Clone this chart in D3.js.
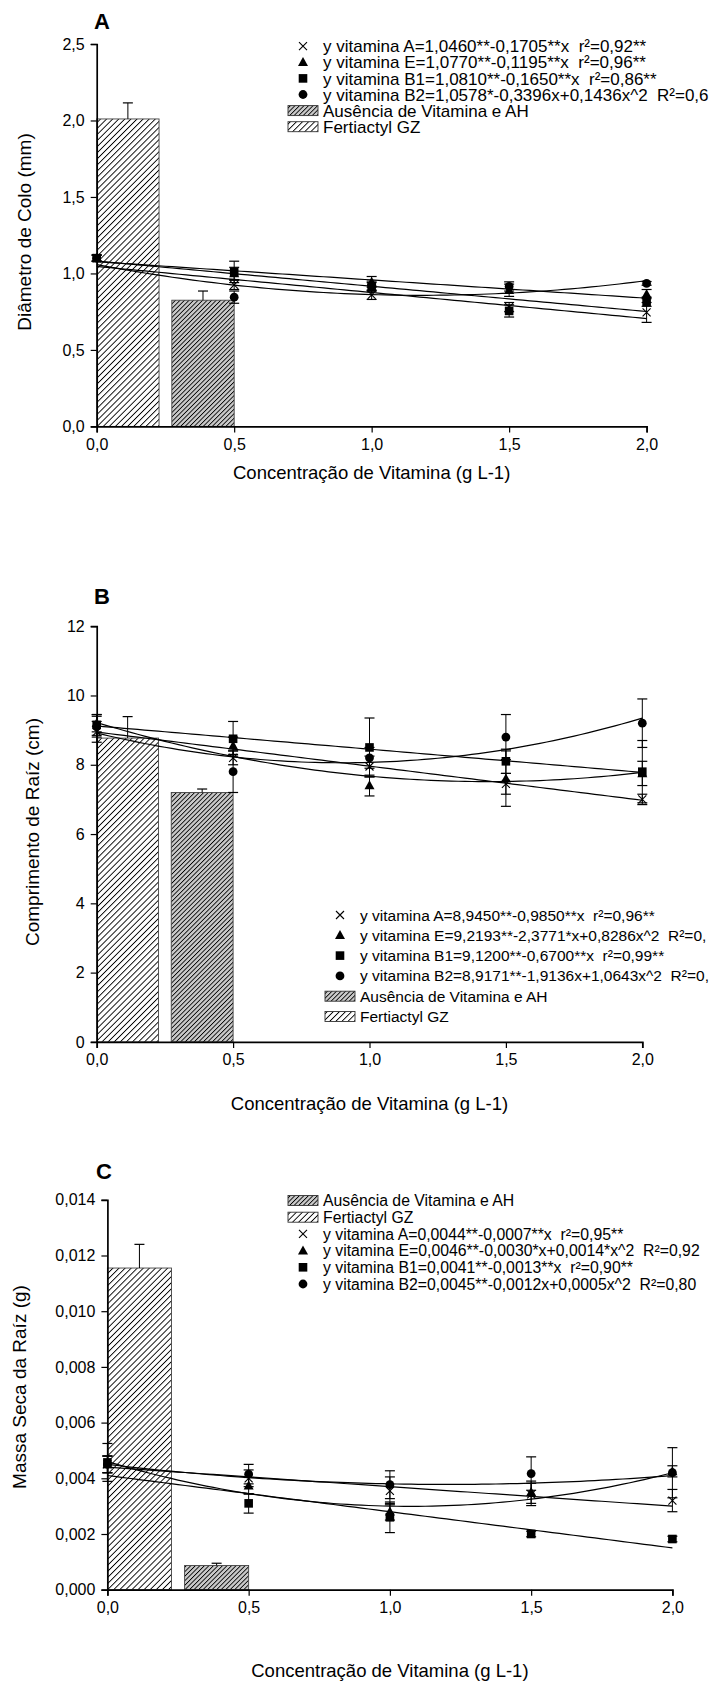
<!DOCTYPE html>
<html>
<head>
<meta charset="utf-8">
<script src="https://cdn.jsdelivr.net/npm/d3@7"></script>
<style>
  body { margin: 0; background: #fff; }
  svg { display: block; }
  text { font-family: "Liberation Sans", Arial, sans-serif; fill: #000; }
</style>
</head>
<body>
<svg id="chart" width="710" height="1684"></svg>
<script>
// ---- data ----
const concentrations = [0, 0.5, 1.0, 1.5, 2.0];
const barNames = ["Fertiactyl GZ", "Ausência de Vitamina e AH"];
const seriesKeys = ["A", "E", "B1", "B2"];

// A: Diâmetro de Colo (mm)
const diamVitA = [1.10, 0.925, 0.86, 0.78, 0.745];
const diamVitE = [1.10, 1.00, 0.945, 0.89, 0.865];
const diamVitB1 = [1.10, 1.01, 0.91, 0.755, 0.815];
const diamVitB2 = [1.10, 0.845, 0.92, 0.915, 0.935];
const diamErrA = [0.02, 0.03, 0.03, 0.03, 0.065];
const diamErrE = [0.02, 0.04, 0.035, 0.04, 0.03];
const diamErrB1 = [0.02, 0.07, 0.03, 0.04, 0.03];
const diamErrB2 = [0.02, 0.04, 0.03, 0.03, 0.012];
const diamBars = [2.01, 0.825];
const diamBarErr = [0.105, 0.06];
const diamCoefs = [[1.0460, -0.1705, 0], [1.0770, -0.1195, 0], [1.0810, -0.1650, 0], [1.0578, -0.3396, 0.1436]];
const diamLegend = [
  "y vitamina A=1,0460**-0,1705**x  r²=0,92**",
  "y vitamina E=1,0770**-0,1195**x  r²=0,96**",
  "y vitamina B1=1,0810**-0,1650**x  r²=0,86**",
  "y vitamina B2=1,0578*-0,3396x+0,1436x^2  R²=0,6"
];
const diamTicks = [0, 0.5, 1.0, 1.5, 2.0, 2.5];

// B: Comprimento de Raíz (cm)
const lenVitA = [8.95, 8.2, 7.95, 7.45, 7.0];
const lenVitE = [9.2, 8.55, 7.4, 7.6, 7.75];
const lenVitB1 = [9.15, 8.75, 8.5, 8.1, 7.8];
const lenVitB2 = [9.1, 7.8, 8.2, 8.8, 9.2];
const lenErrA = [0.3, 0.2, 0.3, 0.3, 0.15];
const lenErrE = [0.25, 0.25, 0.3, 0.8, 0.35];
const lenErrB1 = [0.3, 0.5, 0.85, 0.35, 0.9];
const lenErrB2 = [0.3, 0.6, 0.3, 0.65, 0.7];
const lenBars = [8.77, 7.2];
const lenBarErr = [0.62, 0.1];
const lenCoefs = [[8.9450, -0.9850, 0], [9.2193, -2.3771, 0.8286], [9.1200, -0.6700, 0], [8.9171, -1.9136, 1.0643]];
const lenLegend = [
  "y vitamina A=8,9450**-0,9850**x  r²=0,96**",
  "y vitamina E=9,2193**-2,3771*x+0,8286x^2  R²=0,",
  "y vitamina B1=9,1200**-0,6700**x  r²=0,99**",
  "y vitamina B2=8,9171**-1,9136x+1,0643x^2  R²=0,"
];
const lenTicks = [0, 2, 4, 6, 8, 10, 12];

// C: Massa Seca da Raíz (g)
const massVitA = [0.0045, 0.0040, 0.00355, 0.00342, 0.0032];
const massVitE = [0.0045, 0.00373, 0.0028, 0.0035, 0.00425];
const massVitB1 = [0.00457, 0.0031, 0.0026, 0.0020, 0.00182];
const massVitB2 = [0.0045, 0.00415, 0.00377, 0.00417, 0.0042];
const massErrA = [0.0003, 0.0003, 0.0005, 0.0004, 0.0004];
const massErrE = [0.0003, 0.0003, 0.0003, 0.0004, 0.0002];
const massErrB1 = [0.00068, 0.00035, 0.00055, 0.0001, 0.0001];
const massErrB2 = [0.0003, 0.00035, 0.0005, 0.0006, 0.0009];
const massBars = [0.01155, 0.00087];
const massBarErr = [0.00085, 0.00008];
const massCoefs = [[0.0044, -0.0007, 0], [0.0046, -0.0030, 0.0014], [0.0041, -0.0013, 0], [0.0045, -0.0012, 0.0005]];
const massLegend = [
  "y vitamina A=0,0044**-0,0007**x  r²=0,95**",
  "y vitamina E=0,0046**-0,0030*x+0,0014*x^2  R²=0,92",
  "y vitamina B1=0,0041**-0,0013**x  r²=0,90**",
  "y vitamina B2=0,0045**-0,0012x+0,0005x^2  R²=0,80"
];
const massTicks = [0, 0.002, 0.004, 0.006, 0.008, 0.010, 0.012, 0.014];

const xTicks = [0, 0.5, 1.0, 1.5, 2.0];
const xTitle = "Concentração de Vitamina (g L-1)";

// ---- setup ----
const svg = d3.select("#chart");
const locale = d3.formatLocale({ decimal: ",", thousands: ".", grouping: [3], currency: ["", ""] });

// hatch patterns
const defs = svg.append("defs");
function hatch(id, bg, gap, lw) {
  const p = defs.append("pattern")
    .attr("id", id)
    .attr("patternUnits", "userSpaceOnUse")
    .attr("width", gap).attr("height", gap)
    .attr("patternTransform", "rotate(45)");
  p.append("rect").attr("width", gap).attr("height", gap).attr("fill", bg);
  p.append("rect").attr("width", lw).attr("height", gap).attr("fill", "#000");
}
hatch("hatchLight", "#fff", 4.3, 0.9);
hatch("hatchDark", "#cacaca", 3.2, 0.85);
const barFills = ["url(#hatchLight)", "url(#hatchDark)"];

// marker shapes
function marker(sel, key) {
  if (key === "A") {
    sel.append("path").attr("d", "M-4,-4L4,4M-4,4L4,-4").attr("stroke", "#000").attr("stroke-width", 1.1).attr("fill", "none");
  } else if (key === "E") {
    sel.append("path").attr("d", "M0,-5.2L5,3.8L-5,3.8Z").attr("fill", "#000");
  } else if (key === "B1") {
    sel.append("rect").attr("x", -4.3).attr("y", -4.3).attr("width", 8.6).attr("height", 8.6).attr("fill", "#000");
  } else {
    sel.append("circle").attr("r", 4.4).attr("fill", "#000");
  }
}

const panels = [
  {
    label: "A", labelPos: [94, 29],
    xRange: [96.7, 646.6], yRange: [426.4, 44], yDomain: [0, 2.5], yTicks: diamTicks, yFmt: locale.format(".1f"),
    values: [diamVitA, diamVitE, diamVitB1, diamVitB2], errors: [diamErrA, diamErrE, diamErrB1, diamErrB2],
    bars: diamBars, barErr: diamBarErr, coefs: diamCoefs, legend: diamLegend,
    yTitle: "Diâmetro de Colo (mm)", yTitlePos: [30.5, 232], xTitleY: 479,
    legendX: 303, legendY: 46.2, legendStep: 16.1, legendFont: 17, barsFirst: false
  },
  {
    label: "B", labelPos: [94, 604],
    xRange: [96.7, 642.3], yRange: [1041.9, 626.2], yDomain: [0, 12], yTicks: lenTicks, yFmt: d3.format("d"),
    values: [lenVitA, lenVitE, lenVitB1, lenVitB2], errors: [lenErrA, lenErrE, lenErrB1, lenErrB2],
    bars: lenBars, barErr: lenBarErr, coefs: lenCoefs, legend: lenLegend,
    yTitle: "Comprimento de Raíz (cm)", yTitlePos: [38.7, 832], xTitleY: 1110,
    legendX: 340, legendY: 915, legendStep: 20.3, legendFont: 15.5, barsFirst: false
  },
  {
    label: "C", labelPos: [96, 1179],
    xRange: [107.4, 672.4], yRange: [1589.7, 1199.8], yDomain: [0, 0.014], yTicks: massTicks, yFmt: locale.format(".3f"),
    values: [massVitA, massVitE, massVitB1, massVitB2], errors: [massErrA, massErrE, massErrB1, massErrB2],
    bars: massBars, barErr: massBarErr, coefs: massCoefs, legend: massLegend,
    yTitle: "Massa Seca da Raíz (g)", yTitlePos: [26, 1387], xTitleY: 1677,
    legendX: 303, legendY: 1200.5, legendStep: 16.7, legendFont: 15.8, barsFirst: true
  }
];

panels.forEach(drawPanel);

function drawPanel(p) {
  const x = d3.scaleLinear().domain([0, 2]).range(p.xRange);
  const y = d3.scaleLinear().domain(p.yDomain).range(p.yRange);
  const g = svg.append("g");

  // bars (Fertiactyl, Ausência) sit in the first half-unit of the axis
  const band = d3.scaleBand().domain(barNames).range([x(0), x(0.5)]).paddingInner(0.17).paddingOuter(0);
  g.selectAll(".bar").data(barNames).join("rect")
    .attr("class", "bar")
    .attr("x", d => band(d))
    .attr("y", (d, i) => y(p.bars[i]))
    .attr("width", band.bandwidth())
    .attr("height", (d, i) => y(0) - y(p.bars[i]))
    .attr("fill", (d, i) => barFills[i])
    .attr("stroke", "#444").attr("stroke-width", 0.9);

  barNames.forEach((d, i) => {
    const cx = band(d) + band.bandwidth() / 2;
    const top = y(p.bars[i] + p.barErr[i]);
    g.append("line").attr("x1", cx).attr("x2", cx).attr("y1", y(p.bars[i])).attr("y2", top).attr("stroke", "#000").attr("stroke-width", 1);
    g.append("line").attr("x1", cx - 5).attr("x2", cx + 5).attr("y1", top).attr("y2", top).attr("stroke", "#000").attr("stroke-width", 1.2);
  });

  // regression curves from the legend equations
  const line = d3.line().x(d => x(d[0])).y(d => y(d[1]));
  const xs = d3.range(0, 2.0001, 0.025);
  p.coefs.forEach(c => {
    g.append("path")
      .datum(xs.map(v => [v, c[0] + c[1] * v + c[2] * v * v]))
      .attr("d", line)
      .attr("fill", "none").attr("stroke", "#000").attr("stroke-width", 1.2);
  });

  // error bars then markers; square drawn last (it sits on top in the figure)
  const order = [0, 1, 3, 2];
  order.forEach(s => {
    concentrations.forEach((c, i) => {
      const v = p.values[s][i], e = p.errors[s][i];
      const cx = x(c);
      g.append("line").attr("x1", cx).attr("x2", cx).attr("y1", y(v - e)).attr("y2", y(v + e)).attr("stroke", "#000").attr("stroke-width", 1);
      [v - e, v + e].forEach(w => {
        g.append("line").attr("x1", cx - 5).attr("x2", cx + 5).attr("y1", y(w)).attr("y2", y(w)).attr("stroke", "#000").attr("stroke-width", 1.2);
      });
    });
  });
  order.forEach(s => {
    concentrations.forEach((c, i) => {
      const m = g.append("g").attr("transform", `translate(${x(c)},${y(p.values[s][i])})`);
      marker(m, seriesKeys[s]);
    });
  });

  // axes
  const yAxis = g.append("g")
    .attr("transform", `translate(${p.xRange[0]},0)`)
    .call(d3.axisLeft(y).tickValues(p.yTicks).tickFormat(p.yFmt).tickSizeOuter(0).tickSize(6).tickPadding(6));
  const xAxis = g.append("g")
    .attr("transform", `translate(0,${p.yRange[0]})`)
    .call(d3.axisBottom(x).tickValues(xTicks).tickFormat(locale.format(".1f")).tickSizeOuter(0).tickSize(6).tickPadding(6));
  [yAxis, xAxis].forEach(a => {
    a.attr("font-size", 16).attr("font-family", "'Liberation Sans', Arial, sans-serif");
    a.select(".domain").attr("stroke-width", 1.7);
    a.selectAll(".tick line").attr("stroke-width", 1.2);
    a.selectAll(".tick text").attr("fill", "#000");
  });

  // titles
  g.append("text")
    .attr("x", p.labelPos[0]).attr("y", p.labelPos[1])
    .attr("font-size", 22).attr("font-weight", "bold")
    .text(p.label);
  g.append("text")
    .attr("x", (p.xRange[0] + p.xRange[1]) / 2).attr("y", p.xTitleY)
    .attr("text-anchor", "middle").attr("font-size", 18.5)
    .text(xTitle);
  g.append("text")
    .attr("transform", `translate(${p.yTitlePos[0]},${p.yTitlePos[1]}) rotate(-90)`)
    .attr("text-anchor", "middle").attr("font-size", 19)
    .text(p.yTitle);

  // legend
  const rows = [];
  p.legend.forEach((t, s) => rows.push({ kind: "marker", key: seriesKeys[s], text: t }));
  const barRows = [
    { kind: "bar", fill: barFills[1], text: barNames[1] },
    { kind: "bar", fill: barFills[0], text: barNames[0] }
  ];
  const legendRows = p.barsFirst ? barRows.concat(rows) : rows.concat(barRows);
  const lg = g.append("g");
  legendRows.forEach((r, i) => {
    const ry = p.legendY + i * p.legendStep;
    const row = lg.append("g").attr("transform", `translate(${p.legendX},${ry})`);
    if (r.kind === "marker") {
      marker(row, r.key);
    } else {
      row.append("rect").attr("x", -15).attr("y", -5).attr("width", 30).attr("height", 10)
        .attr("fill", r.fill).attr("stroke", "#333").attr("stroke-width", 0.9);
    }
    row.append("text")
      .attr("x", 20).attr("dy", "0.36em")
      .attr("font-size", p.legendFont)
      .style("white-space", "pre")
      .text(r.text);
  });
}
</script>
</body>
</html>
